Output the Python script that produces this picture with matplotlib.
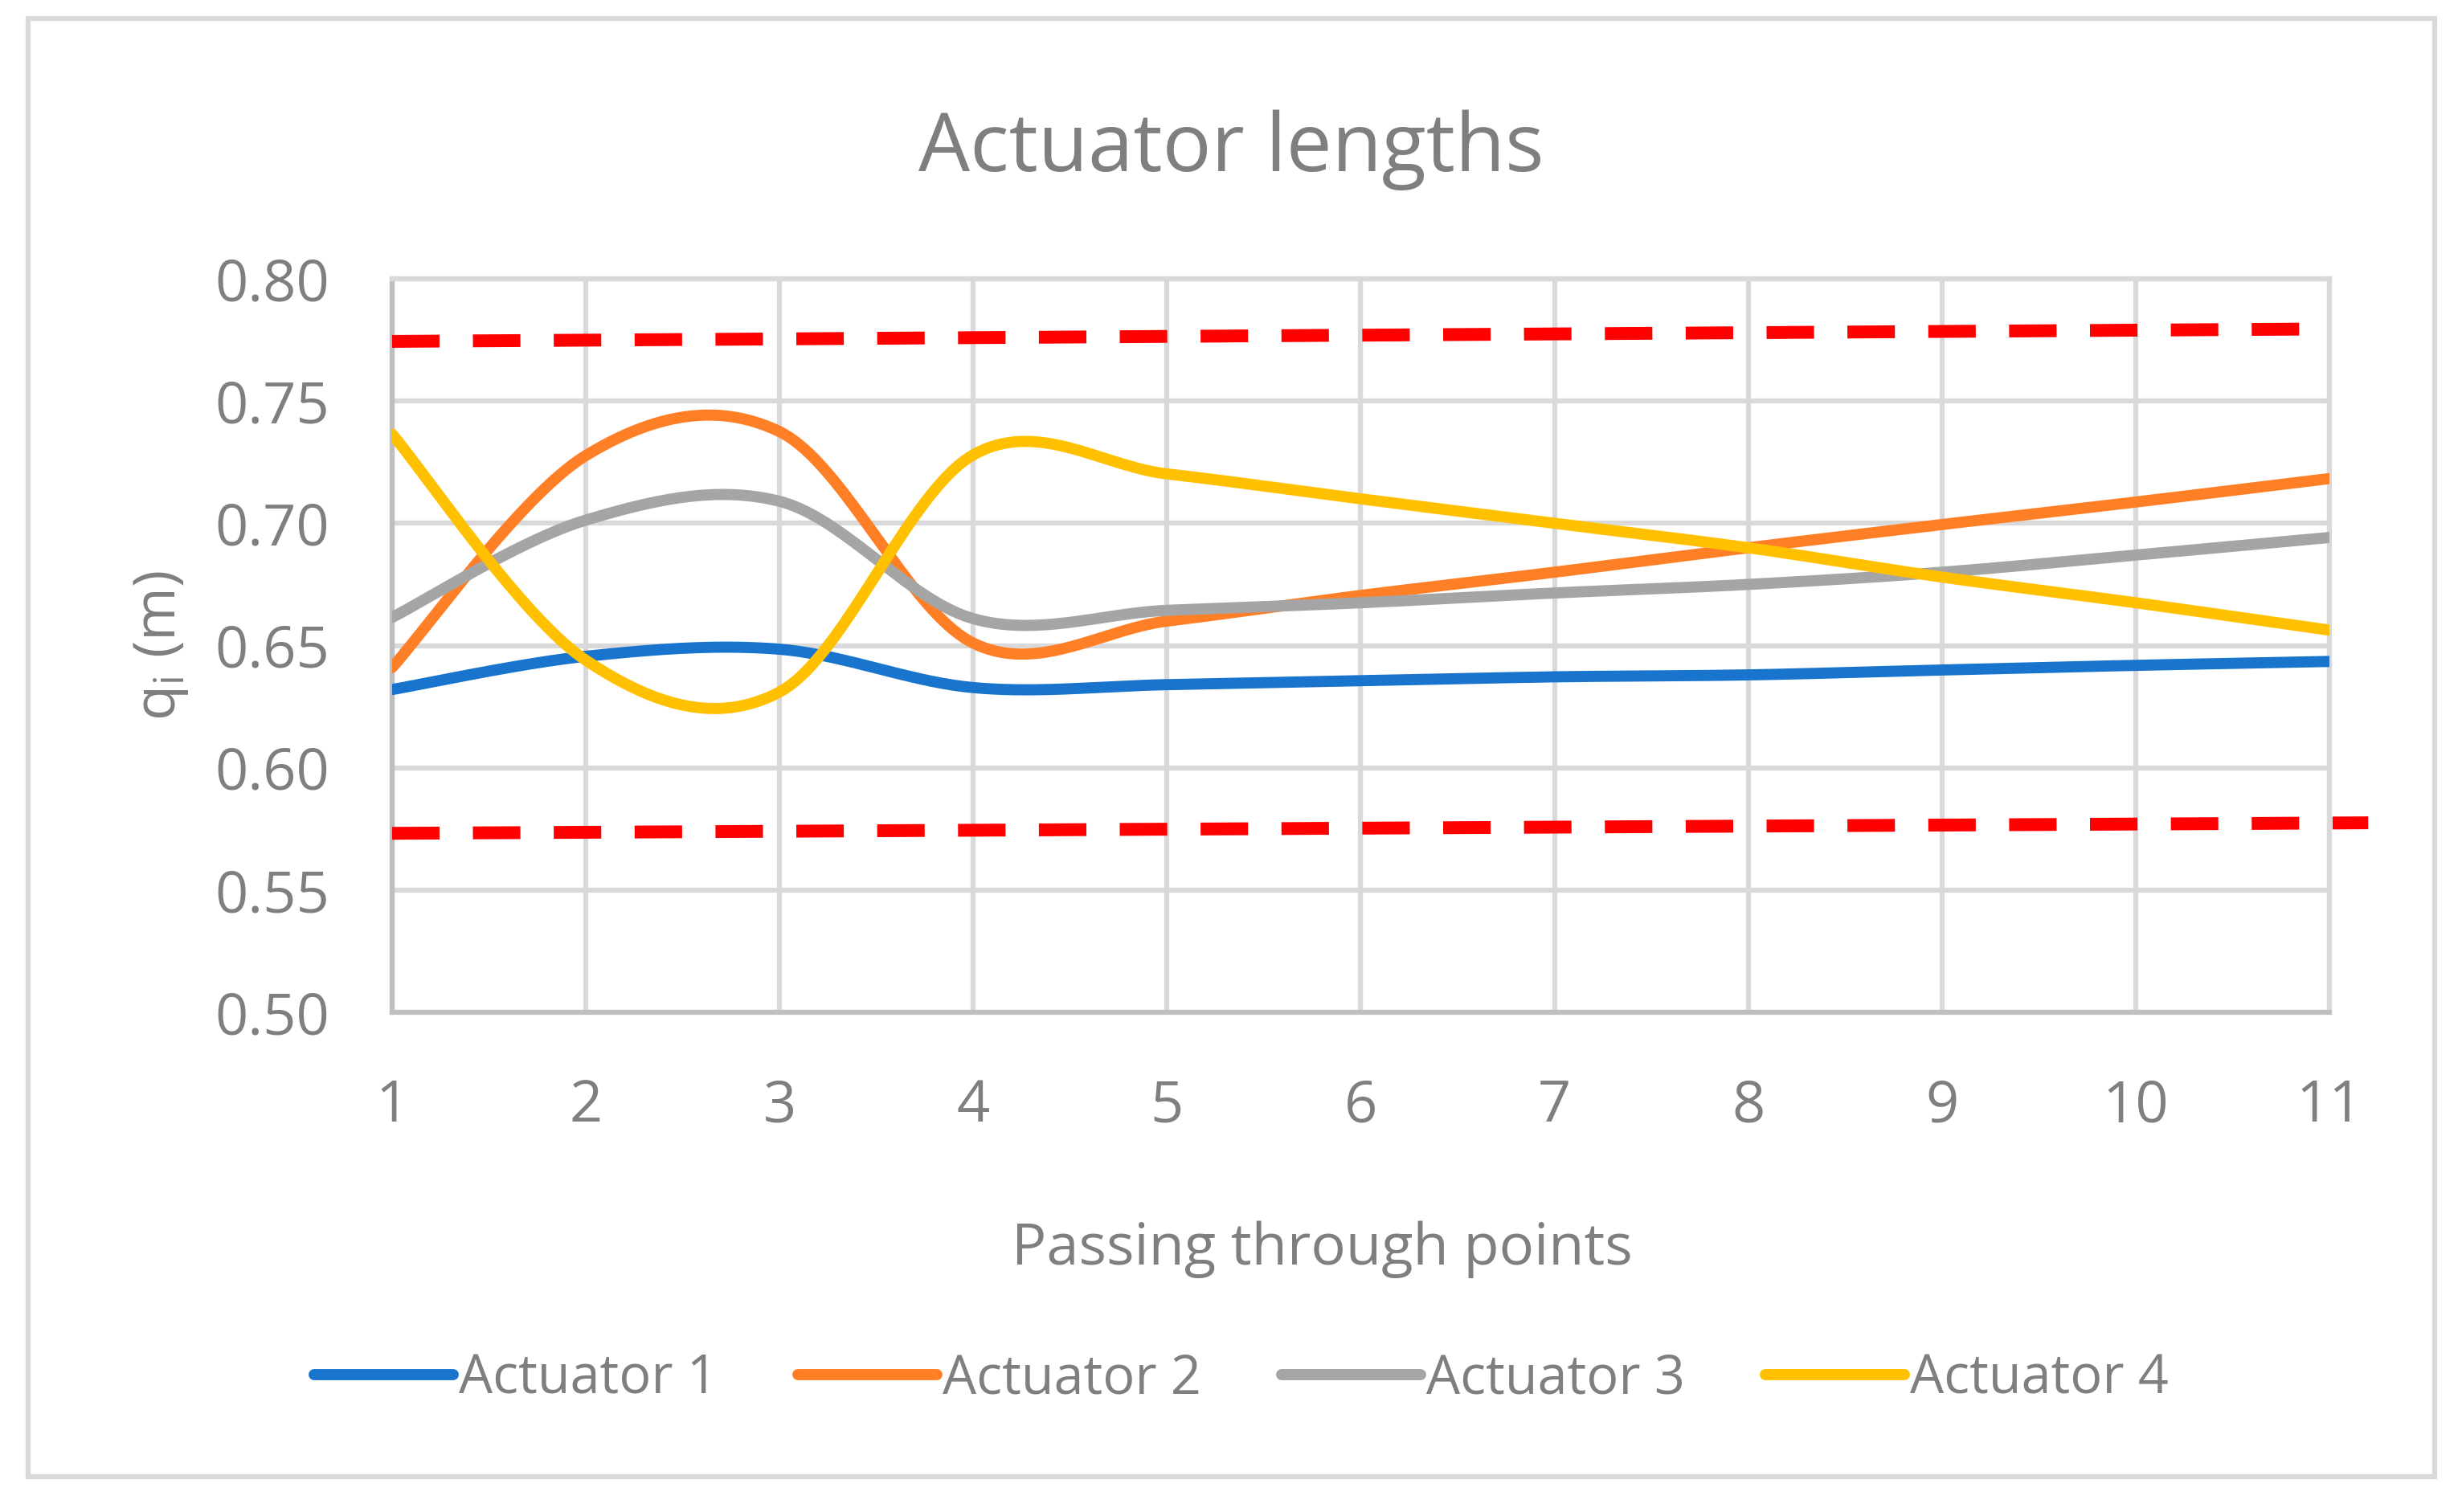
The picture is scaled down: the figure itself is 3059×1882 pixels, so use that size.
import numpy as np
import matplotlib
matplotlib.use("Agg")
import matplotlib.pyplot as plt
from matplotlib.patches import Rectangle

plt.rcParams['font.family'] = ['Open Sans', 'DejaVu Sans']
plt.rcParams['mathtext.fontset'] = 'custom'
plt.rcParams['mathtext.rm'] = 'Open Sans'
plt.rcParams['mathtext.it'] = 'Open Sans'

# data
points = [1, 2, 3, 4, 5, 6, 7, 8, 9, 10, 11]
actuator_1 = [0.6320, 0.6456, 0.6485, 0.6328, 0.6340, 0.6356, 0.6372, 0.6380, 0.6400, 0.6419, 0.6435]
actuator_2 = [0.6410, 0.7277, 0.7375, 0.6510, 0.6600, 0.6705, 0.6800, 0.6900, 0.6995, 0.7087, 0.7183]
actuator_3 = [0.6615, 0.7013, 0.7090, 0.6610, 0.6644, 0.6675, 0.6715, 0.6750, 0.6800, 0.6870, 0.6942]
actuator_4 = [0.7365, 0.6440, 0.6310, 0.7280, 0.7202, 0.7100, 0.7000, 0.6900, 0.6780, 0.6675, 0.6563]
upper_x = [1, 11]
upper_y = [0.7744, 0.7795]
lower_x = [1, 11.2]
lower_y = [0.5732, 0.5775]

labels = ['Actuator 1', 'Actuator 2', 'Actuator 3', 'Actuator 4']
colors = ['#1874CD', '#FF7F27', '#A5A5A5', '#FFC000']
TXT = '#7f7f7f'


def smooth(xs, ys, n=40):
    """Excel-style smoothed line (Catmull-Rom through the points)."""
    p = np.column_stack([xs, ys]).astype(float)
    p = np.vstack([p[0], p, p[-1]])
    out = []
    t = np.linspace(0, 1, n)[:, None]
    for i in range(1, len(p) - 2):
        p0, p1, p2, p3 = p[i - 1], p[i], p[i + 1], p[i + 2]
        c1 = p1 + (p2 - p0) / 6
        c2 = p2 - (p3 - p1) / 6
        seg = ((1 - t) ** 3) * p1 + 3 * ((1 - t) ** 2) * t * c1 + 3 * (1 - t) * t ** 2 * c2 + t ** 3 * p2
        out.append(seg if i == 1 else seg[1:])
    seg = np.vstack(out)
    return seg[:, 0], seg[:, 1]


fig = plt.figure(figsize=(30.59, 18.82), dpi=100)
ax = fig.add_axes([0.1595, 0.3305, 0.7882, 0.4851])

for ys, lab, col in zip([actuator_1, actuator_2, actuator_3, actuator_4], labels, colors):
    sx, sy = smooth(points, ys)
    ax.plot(sx, sy, color=col, linewidth=10, solid_capstyle='round', label=lab, zorder=3)

for xs, ys in [(upper_x, upper_y), (lower_x, lower_y)]:
    ax.plot(xs, ys, color='#FF0000', linewidth=11.5, linestyle=(0, (3.7, 2.6)),
            dash_capstyle='butt', clip_on=False, zorder=3)

ax.set_xlim(1, 11)
ax.set_ylim(0.5, 0.8)
ax.set_xticks(points)
ax.set_yticks(np.arange(0.50, 0.801, 0.05))
ax.set_yticklabels([f'{v:.2f}' for v in np.arange(0.50, 0.801, 0.05)])
ax.grid(True, color='#d9d9d9', linewidth=4.5, zorder=1)
ax.set_axisbelow(True)
ax.tick_params(axis='both', length=0, labelsize=52, labelcolor=TXT)
ax.tick_params(axis='x', pad=59)
ax.tick_params(axis='y', pad=56)

for side in ['left', 'bottom']:
    ax.spines[side].set_color('#bfbfbf')
    ax.spines[side].set_linewidth(4.5)
for side in ['top', 'right']:
    ax.spines[side].set_color('#d9d9d9')
    ax.spines[side].set_linewidth(4.5)

ax.set_ylabel('q$_\\mathrm{i}$ (m)', fontsize=52, color=TXT)
ax.yaxis.set_label_coords(-0.104, 0.5)

fig.text(0.501, 0.901, 'Actuator lengths', fontsize=73, color=TXT, ha='center', va='center')
fig.text(0.538, 0.1737, 'Passing through points', fontsize=52, color=TXT, ha='center', va='center')

leg = fig.legend(*ax.get_legend_handles_labels(), loc='center', bbox_to_anchor=(0.505, 0.0877),
                 ncol=4, frameon=False, fontsize=48, handlelength=2.6, handletextpad=0.1,
                 columnspacing=1.5)
for t in leg.get_texts():
    t.set_color(TXT)

fig.patches.append(Rectangle((35 / 3059, 1 - 1838 / 1882), (3030 - 35) / 3059, (1838 - 23) / 1882,
                             transform=fig.transFigure, fill=False, edgecolor='#d9d9d9', linewidth=4.5))

fig.savefig('out.png', dpi=100, facecolor='white')
